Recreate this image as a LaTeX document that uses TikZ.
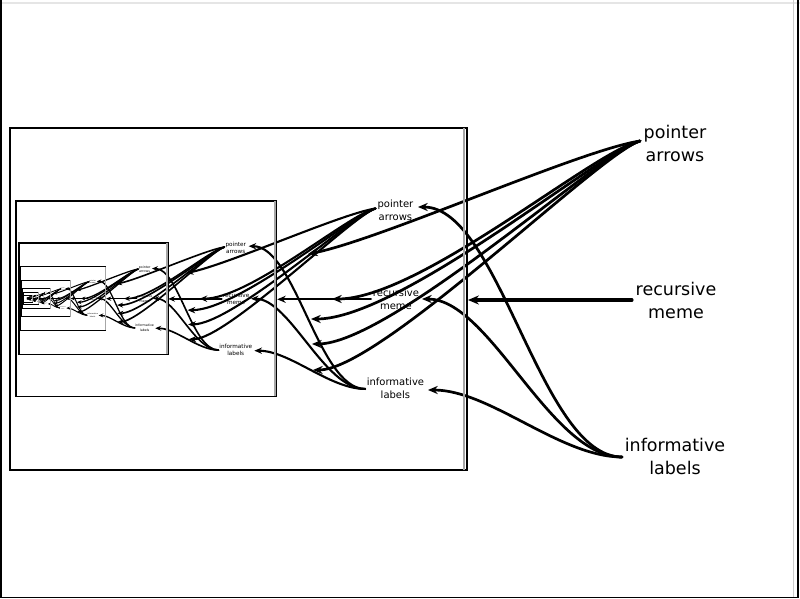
\documentclass[tikz,border=0pt]{standalone}
\usepackage{fontspec}
\setmainfont{DejaVu Sans}
\usetikzlibrary{arrows.meta}
\tikzset{
  lbl/.style={align=center, anchor=north, inner sep=0pt, font=\fontsize{17.5}{23}\selectfont},
  ptr/.style={line width=\lw pt, line cap=round, -{Stealth[length=0pt 3.6, width=0pt 3.0, inset=0pt 1.2]}},
  boxline/.style={line width=\bw pt},
  frameline/.style={line width=1.6pt}
}
\newcommand\memelevel[3]{%
  \def\lw{#2}\def\bw{#3}%
  % labels
  \node[lbl] (pa) at (675,125) {pointer\\arrows};
  \node[lbl] (rm) at (676,282) {recursive\\meme};
  \node[lbl] (il) at (675,438) {informative\\labels};
  % start points of the connectors
  \coordinate (pas) at (640,141);
  \coordinate (rms) at (632,300);
  \coordinate (ils) at (622,457);
  % targets
  \coordinate (tp1) at (308,254);
  \coordinate (tp2) at (332,299);
  \coordinate (tp3) at (311,319);
  \coordinate (tp4) at (312,344);
  \coordinate (tp5) at (313,370);
  \coordinate (ti1) at (418,207);
  \coordinate (ti2) at (422,299);
  \coordinate (ti3) at (428,390);
  \coordinate (tr)  at (468,300);
  % pointer arrows
  \draw[ptr] (pas) .. controls (580,150) and (380,240) .. (tp1);
  \draw[ptr] (pas) .. controls (595,150) and (420,299) .. (tp2);
  \draw[ptr] (pas) .. controls (600,152) and (400,319) .. (tp3);
  \draw[ptr] (pas) .. controls (600,153) and (390,344) .. (tp4);
  \draw[ptr] (pas) .. controls (600,153) and (380,370) .. (tp5);
  % recursive meme
  \draw[ptr, line width=1.12*\lw pt] (rms) -- (tr);
  % informative labels
  \draw[ptr] (ils) .. controls (540,457) and (500,207) .. (ti1);
  \draw[ptr] (ils) .. controls (550,457) and (490,299) .. (ti2);
  \draw[ptr] (ils) .. controls (560,457) and (490,390) .. (ti3);
  \ifnum#1>0
    \draw[boxline] (10,128) rectangle (467,470);
    \draw[boxline, gray!70] (463.6,128) -- (463.6,470);
    \begin{scope}[transform canvas={shift={(10,128)},scale=0.571}]
      \pgfmathsetmacro\nlw{#2*1.366}%
      \pgfmathsetmacro\nbw{#3*1.45}%
      \edef\memenext{\noexpand\memelevel{\the\numexpr#1-1\relax}{\nlw}{\nbw}}%
      \memenext
    \end{scope}
  \fi
}
\begin{document}
\begin{tikzpicture}[x=1pt,y=-1pt]
  \useasboundingbox[fill=white] (0,0) rectangle (800,599);
  % outer frame
  \draw[frameline, gray!20] (0,3) -- (800,3);
  \draw[frameline] (1,0) -- (1,597.5) -- (798,597.5) -- (798,0);
  \draw[line width=1pt, gray!40] (793.5,0) -- (793.5,597);
  \memelevel{8}{2.7}{2}
\end{tikzpicture}
\end{document}
